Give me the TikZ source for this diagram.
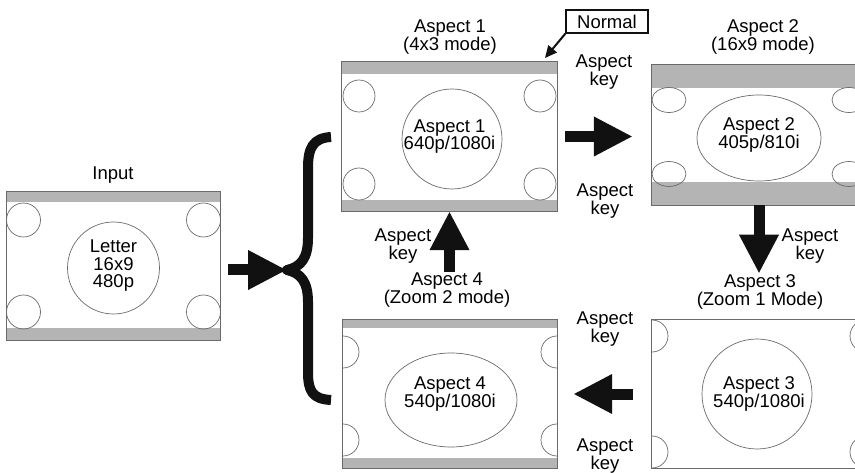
\documentclass[tikz,border=0pt]{standalone}
\usepackage{fontspec}
\setmainfont{Liberation Sans}
\usetikzlibrary{arrows.meta,positioning}
\definecolor{Ink}{HTML}{111111}
\definecolor{Frame}{HTML}{6A6A6A}
\definecolor{Stripe}{HTML}{B4B4B4}

\begin{document}
\begin{tikzpicture}[
      x=1pt,y=-1pt,
      txt/.style={font=\fontsize{18.5}{17.5}\selectfont,align=center,inner sep=1pt},
      screen/.style={txt,minimum width=214pt,minimum height=148pt},
      frame/.style={draw=Frame,line width=1pt},
      bar/.style={fill=Stripe},
      blob/.style={draw=Frame,line width=0.7pt},
      bigarrow/.style={-{Triangle[length=39pt,width=37pt]},line width=11pt,color=Ink},
      brace/.style={line width=10pt,line join=round,color=Ink}
    ]
  \useasboundingbox (0,0) rectangle (855,473);
  \clip (0,0) rectangle (855,473);

  % input picture
  \node[txt] (intitle) at (113,175) {Input};
  \node[screen] (in) at (113.5,266) {Letter\\16x9\\480p};
  \begin{scope}[shift={(in.center)}]
    \clip (-107,-74) rectangle (107,74);
    \fill[bar] (-107,-74) rectangle (107,-64);
    \fill[bar] (-107,62) rectangle (107,74);
    \foreach \sx in {-90,90}
      \foreach \sy in {-46,46}
        \draw[blob] (\sx,\sy) circle[radius=17];
    \draw[blob] (0,2) circle[radius=46];
  \end{scope}
  \draw[frame] (in.north west) rectangle (in.south east);

  % brace
  \coordinate (bracetip) at (287,270);
  \draw[brace] (331,137) .. controls (313,138) and (308,148) .. (308,168) -- (308,238)
    .. controls (308,258) and (301,267) .. (bracetip)
    .. controls (301,273) and (308,282) .. (308,302) -- (308,372)
    .. controls (308,392) and (313,399) .. (331,400);

  % aspect 1
  \node[txt] (a1t) at (450,37) {Aspect 1\\(4x3 mode)};
  \node[screen,minimum width=215pt,minimum height=149pt] (a1) at (449.5,136.5) {Aspect 1\\640p/1080i};
  \begin{scope}[shift={(a1.center)}]
    \clip (-107.5,-74.5) rectangle (107.5,74.5);
    \fill[bar] (-107.5,-74.5) rectangle (107.5,-62.5);
    \fill[bar] (-107.5,63.5) rectangle (107.5,74.5);
    \foreach \sx in {-90.5,90.5}
      \foreach \sy in {-40.5,47.5}
        \draw[blob] (\sx,\sy) circle[radius=16];
    \draw[blob] (2.5,2.5) circle[radius=50];
  \end{scope}
  \draw[frame] (a1.north west) rectangle (a1.south east);

  \node[txt,draw=Ink,line width=1.4pt,minimum width=82pt,minimum height=23pt] (normal) at (607,21.5) {Normal};
  \coordinate (normaltip) at (545,58);
  \draw[-{Triangle[length=12pt,width=11pt]},line width=2pt,color=Ink] (normal.south west) -- (normaltip);

  % aspect 2
  \node[txt] (a2t) at (763,37) {Aspect 2\\(16x9 mode)};
  \node[screen,minimum height=140pt] (a2) at (759,135) {Aspect 2\\405p/810i};
  \begin{scope}[shift={(a2.center)}]
    \clip (-107,-70) rectangle (107,70);
    \fill[bar] (-107,-70) rectangle (107,-47);
    \fill[bar] (-107,47) rectangle (107,70);
    \foreach \sx in {-90,90}
      \foreach \sy in {-35,39}
        \draw[blob] (\sx,\sy) ellipse[x radius=17,y radius=12.5];
    \draw[blob] (0,3) ellipse[x radius=62,y radius=43];
  \end{scope}
  \draw[frame] (a2.north west) rectangle (a2.south east);

  % aspect 3
  \node[txt] (a3t) at (760,292) {Aspect 3\\(Zoom 1 Mode)};
  \node[screen] (a3) at (759,394) {Aspect 3\\540p/1080i};
  \begin{scope}[shift={(a3.center)}]
    \clip (-107,-74) rectangle (107,74);
    \foreach \sx in {-107,107}
      \foreach \sy in {-58,58}
        \draw[blob] (\sx,\sy) circle[radius=16];
    \draw[blob] (-2,0) circle[radius=55];
  \end{scope}
  \draw[frame] (a3.north west) rectangle (a3.south east);

  % aspect 4
  \node[txt] (a4t) at (447,290) {Aspect 4\\(Zoom 2 mode)};
  \node[screen] (a4) at (450,394) {Aspect 4\\540p/1080i};
  \begin{scope}[shift={(a4.center)}]
    \clip (-107,-74) rectangle (107,74);
    \fill[bar] (-107,-74) rectangle (107,-66);
    \fill[bar] (-107,64) rectangle (107,74);
    \foreach \sx in {-107,107}
      \foreach \sy in {-42,46}
        \draw[blob] (\sx,\sy) circle[radius=16];
    \draw[blob] (1,6) ellipse[x radius=66,y radius=47];
  \end{scope}
  \draw[frame] (a4.north west) rectangle (a4.south east);

  % key labels
  \node[txt] (k1) at (604,72) {Aspect\\key};
  \node[txt] (k2) at (605,201) {Aspect\\key};
  \node[txt] (k3) at (810,246) {Aspect\\key};
  \node[txt] (k4) at (605,329) {Aspect\\key};
  \node[txt] (k5) at (605,456) {Aspect\\key};
  \node[txt] (k6) at (403,246) {Aspect\\key};

  % arrows
  \draw[bigarrow,shorten <=7pt] (in.east |- bracetip) -- (bracetip);
  \draw[bigarrow,shorten <=8pt,shorten >=19pt] (a1.east) -- (a1.east -| a2.west);
  \draw[bigarrow] (a2.south) -- (a2.south |- a3t.north);
  \draw[bigarrow,shorten <=19pt,shorten >=16pt] (a3.west) -- (a3.west -| a4.east);
  \draw[bigarrow] (a4t.north -| a1.south) -- (a1.south);
\end{tikzpicture}
\end{document}
